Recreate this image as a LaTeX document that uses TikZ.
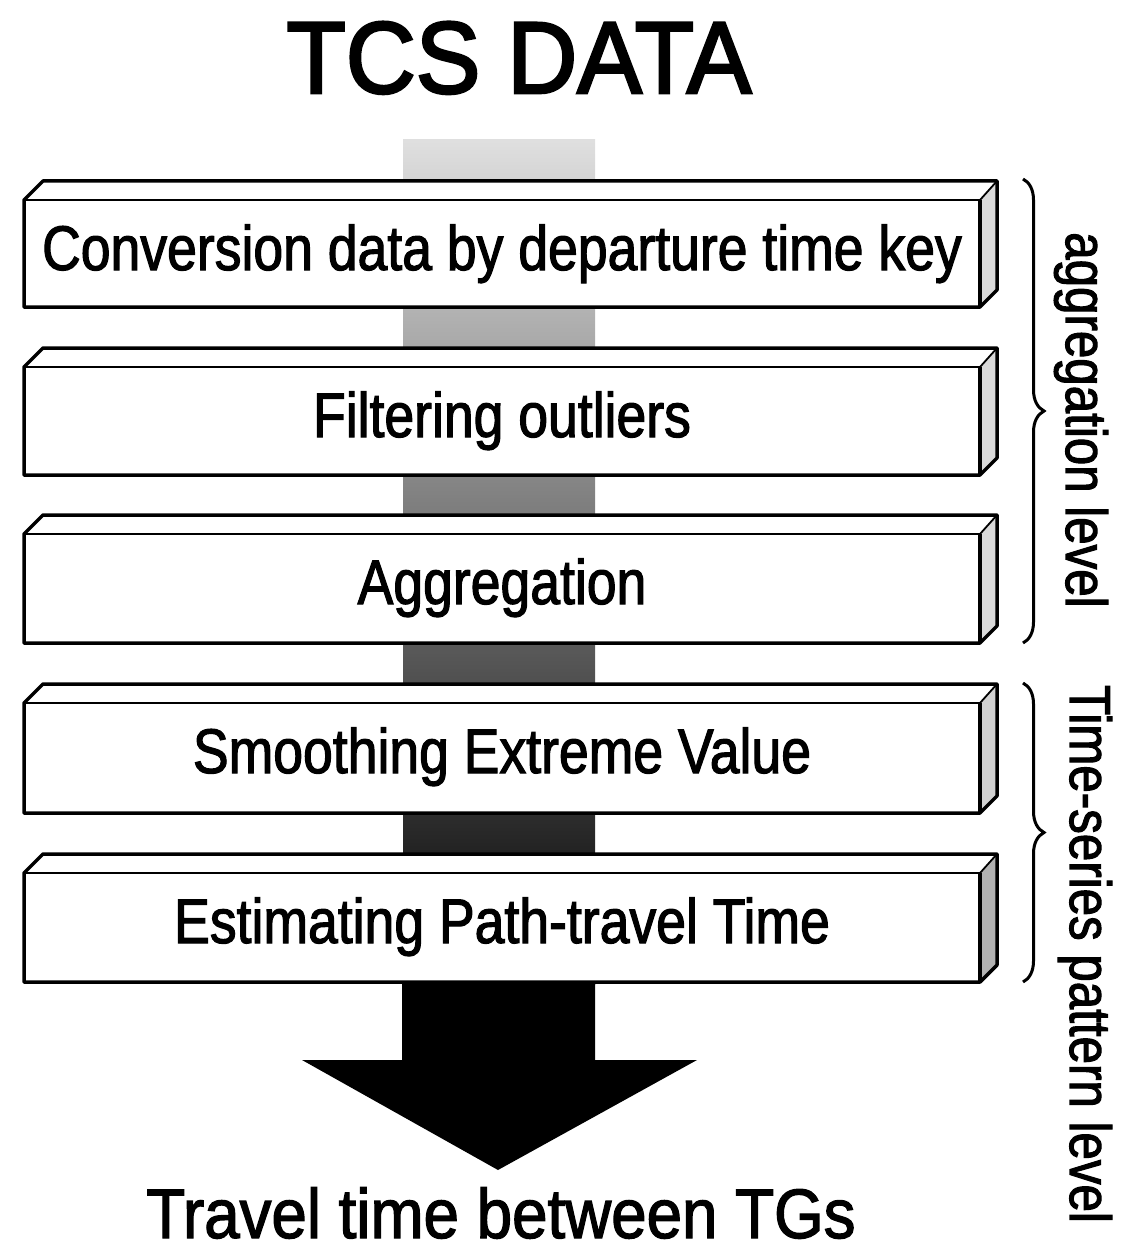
\documentclass[tikz,border=0pt]{standalone}
\usepackage{fontspec}
\setmainfont{Liberation Sans}
\newfontfamily\titlefont[FakeStretch=0.95,FakeBold=2.6]{Liberation Sans}
\newfontfamily\narrowfont[FakeStretch=0.85,FakeBold=1.8]{Liberation Sans}
\newfontfamily\resultfont[FakeStretch=0.91,FakeBold=1.8]{Liberation Sans}
\usetikzlibrary{decorations.pathreplacing}

\begin{document}
\begin{tikzpicture}[x=1pt,y=-1pt,
  outline/.style={line width=3.5pt, line join=round},
  inneredge/.style={line width=1.8pt, line join=round},
  boxlabel/.style={font=\narrowfont\fontsize{63}{70}\selectfont, anchor=base, inner sep=0pt},
  sidelabel/.style={font=\narrowfont\fontsize{58}{64}\selectfont, rotate=-90, anchor=base, inner sep=0pt},
  levelbrace/.style={decorate, decoration={brace, amplitude=21pt}, line width=3pt}
]
\useasboundingbox (0,0) rectangle (1129,1249);

% title
\node[font=\titlefont\fontsize{102}{110}\selectfont, anchor=base, inner sep=0pt] (title) at (519,93) {TCS DATA};

% processing band behind the stages, darkening downwards
\shade[top color=gray!25, middle color=gray!62, bottom color=black] (403,140) rectangle (595,984);

% output arrow
\fill[black] (402,978) -- (595,978) -- (595,1060) -- (697,1060) -- (498,1170)
  -- (302,1060) -- (402,1060) -- cycle;

% stage boxes: front top / bottom / name / side shade / label
\foreach \t/\b/\name/\sh/\txt in {
  200/307/conv/30/{Conversion data by departure time key},
  367/475/filt/30/{Filtering outliers},
  534/643/aggr/30/{Aggregation},
  703/813/smooth/35/{Smoothing Extreme Value},
  873/982/estim/60/{Estimating Path-travel Time}}{
  % top face
  \fill[white] (24,\t) -- (43,\t-19) -- (997,\t-19) -- (980,\t) -- cycle;
  % side face
  \fill[gray!\sh] (980,\t) -- (997,\t-19) -- (997,\b-17) -- (980,\b) -- cycle;
  % front face
  \fill[white] (24,\t) rectangle (980,\b);
  % edges
  \draw[inneredge] (24,\t) -- (980,\t) -- (997,\t-19);
  \draw[outline] (980,\t) -- (980,\b);
  \draw[outline] (24,\t) -- (43,\t-19) -- (997,\t-19) -- (997,\b-17) -- (980,\b) -- (24,\b) -- cycle;
  \node[boxlabel] (\name) at (502,\t+70) {\txt};
}

% level braces
\coordinate (aggtop) at (1023,179);
\coordinate (aggbot) at (1023,643);
\coordinate (tstop) at (1023,683);
\coordinate (tsbot) at (1023,982);
\draw[levelbrace] (aggtop) -- (aggbot);
\draw[levelbrace] (tstop) -- (tsbot);

\node[sidelabel] (agglabel) at (1066,420) {aggregation level};
\node[sidelabel] (tslabel) at (1070,954) {Time-series pattern level};

% result
\node[font=\resultfont\fontsize{70}{76}\selectfont, anchor=base, inner sep=0pt] (result) at (501,1238) {Travel time between TGs};
\end{tikzpicture}
\end{document}
